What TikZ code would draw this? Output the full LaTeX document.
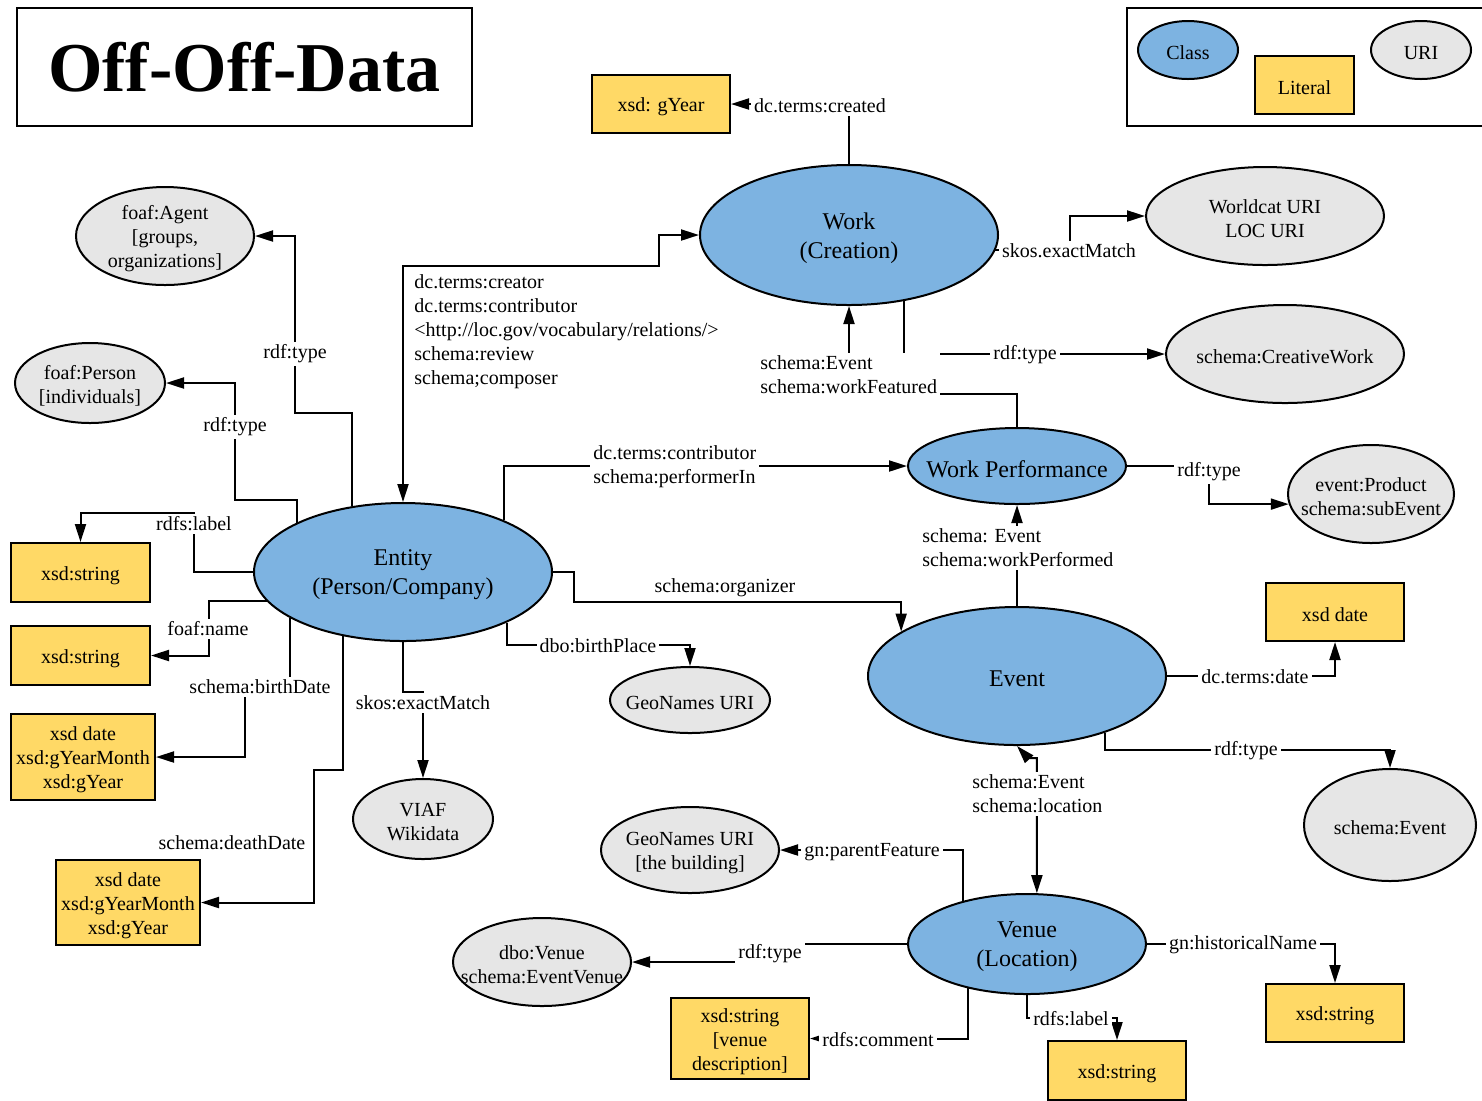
\documentclass[tikz,border=0pt]{standalone}
\usepackage{fontspec}
\setmainfont{Liberation Serif}
\usetikzlibrary{shapes.geometric,arrows.meta,calc}
\definecolor{clsblue}{HTML}{7DB3E1}
\definecolor{urigrey}{HTML}{E6E6E6}
\definecolor{lityellow}{HTML}{FFD966}
\newcommand\lblfont{\fontsize{10}{12}\selectfont}
\newcommand\clsfont{\fontsize{12}{14.5}\selectfont}
\begin{document}
\begin{tikzpicture}[x=0.5pt,y=-0.5pt,
  sz/.style 2 args={minimum width=#1*0.5pt,minimum height=#2*0.5pt},
  cls/.style={ellipse,draw,line width=1pt,fill=clsblue,inner sep=0pt},
  uri/.style={ellipse,draw,line width=1pt,fill=urigrey,inner sep=0pt},
  lit/.style={rectangle,draw,line width=1pt,fill=lityellow,inner sep=0pt},
  littxt/.style={align=center,font=\lblfont,inner sep=0pt,yshift=-1.5pt},
  clstxt/.style={align=center,font=\clsfont,inner sep=0pt,yshift=-1.5pt},
  uritxt/.style={align=center,font=\lblfont,inner sep=0pt,yshift=-1.5pt},
  lab/.style={fill=white,inner sep=1.5pt,font=\lblfont,align=center},
  labl/.style={fill=white,inner sep=1.5pt,font=\lblfont,align=left},
  conn/.style={line width=1pt,-{Triangle[length=9pt,width=5.5pt]}},
  conntwo/.style={line width=1pt,{Triangle[length=9pt,width=5.5pt]}-{Triangle[length=9pt,width=5.5pt]}}
]
\useasboundingbox (0,0) rectangle (1482,1100);

% title and legend
\node[draw,line width=1pt,sz={455}{118},inner sep=0pt] (title) at (244.5,67) {\fontsize{35}{40}\selectfont\bfseries Off-Off-Data};
\draw[line width=1pt] (1482,8) -- (1127,8) -- (1127,126) -- (1482,126);
\node[cls,sz={100}{58}] (lgclass) at (1188,50) {};
\node[clstxt,font=\lblfont] (lgclass-t) at (lgclass) {Class};
\node[lit,sz={99}{58}] (lglit) at (1304.5,85) {};
\node[littxt] (lglit-t) at (lglit) {Literal};
\node[uri,sz={100}{58}] (lguri) at (1421,50) {};
\node[uritxt] (lguri-t) at (lguri) {URI};

% class nodes
\node[cls,sz={298}{140}] (work) at (849,235) {};
\node[clstxt] (work-t) at (work) {Work\\(Creation)};
\node[cls,sz={298}{138}] (entity) at (403,572) {};
\node[clstxt] (entity-t) at (entity) {Entity\\(Person/Company)};
\node[cls,sz={218}{76}] (wp) at (1017,466) {};
\node[clstxt] (wp-t) at (wp) {Work Performance};
\node[cls,sz={298}{138}] (event) at (1017,676) {};
\node[clstxt] (event-t) at (event) {Event};
\node[cls,sz={238}{100}] (venue) at (1027,944) {};
\node[clstxt] (venue-t) at (venue) {Venue\\(Location)};

% URI nodes
\node[uri,sz={238}{98}] (worldcat) at (1265,216) {};
\node[uritxt] (worldcat-t) at (worldcat) {Worldcat URI\\LOC URI};
\node[uri,sz={238}{98}] (cw) at (1285,354) {};
\node[uritxt] (cw-t) at (cw) {schema:CreativeWork};
\node[uri,sz={178}{98}] (agent) at (165,236) {};
\node[uritxt] (agent-t) at (agent) {foaf:Agent\\{[}groups,\\organizations{]}};
\node[uri,sz={150}{80}] (person) at (90,383) {};
\node[uritxt] (person-t) at (person) {foaf:Person\\{[}individuals{]}};
\node[uri,sz={166}{98}] (product) at (1371,494) {};
\node[uritxt] (product-t) at (product) {event:Product\\schema:subEvent};
\node[uri,sz={160}{66}] (geo1) at (690,700) {};
\node[uritxt] (geo1-t) at (geo1) {GeoNames URI};
\node[uri,sz={140}{80}] (viaf) at (423,819) {};
\node[uritxt] (viaf-t) at (viaf) {VIAF\\Wikidata};
\node[uri,sz={172}{112}] (sevent) at (1390,825) {};
\node[uritxt] (sevent-t) at (sevent) {schema:Event};
\node[uri,sz={178}{86}] (geo2) at (690,850) {};
\node[uritxt] (geo2-t) at (geo2) {GeoNames URI\\{[}the building{]}};
\node[uri,sz={178}{88}] (dbovenue) at (542,962) {};
\node[uritxt] (dbovenue-t) at (dbovenue) {dbo:Venue\\schema:EventVenue};

% literal nodes
\node[lit,sz={138}{58}] (gyear) at (661,104) {};
\node[littxt] (gyear-t) at (gyear) {xsd: gYear};
\node[lit,sz={139}{59}] (str1) at (80.5,572.5) {};
\node[littxt] (str1-t) at (str1) {xsd:string};
\node[lit,sz={139}{59}] (str2) at (80.5,655.5) {};
\node[littxt] (str2-t) at (str2) {xsd:string};
\node[lit,sz={144}{86}] (bdate) at (83,757) {};
\node[littxt] (bdate-t) at (bdate) {xsd date\\xsd:gYearMonth\\xsd:gYear};
\node[lit,sz={144}{85}] (ddate) at (128,902.5) {};
\node[littxt] (ddate-t) at (ddate) {xsd date\\xsd:gYearMonth\\xsd:gYear};
\node[lit,sz={138}{58}] (xdate) at (1335,612) {};
\node[littxt] (xdate-t) at (xdate) {xsd date};
\node[lit,sz={138}{81}] (vdesc) at (740,1038.5) {};
\node[littxt] (vdesc-t) at (vdesc) {xsd:string\\{[}venue\\description{]}};
\node[lit,sz={138}{58}] (str3) at (1335,1013) {};
\node[littxt] (str3-t) at (str3) {xsd:string};
\node[lit,sz={138}{59}] (str4) at (1117,1070.5) {};
\node[littxt] (str4-t) at (str4) {xsd:string};

% bend points
\coordinate (c2) at (1070,216);
\coordinate (c4) at (849,394);
\coordinate (c5) at (659,266);
\coordinate (c6) at (295,413);
\coordinate (c7) at (235,500);
\coordinate (c8) at (194,513);
\coordinate (c9) at (209,655.5);
\coordinate (c10) at (245,686);
\coordinate (c11) at (314,770);
\coordinate (c12) at (423,692);
\coordinate (c13) at (600,645);
\coordinate (c15) at (574,602);
\coordinate (c17) at (1209,504);
\coordinate (c19) at (1246,750);
\coordinate (c20) at (1028,758);
\coordinate (c22) at (770,953);
\coordinate (c24) at (1071,1018);

% connectors
\draw[conn] (work.north) |- (gyear.east);
\draw[conn] (work.354) -| (c2) -- (worldcat.west);
\draw[conn] (work.310) |- (cw.west);
\draw[conn] (wp.north) |- (c4) -- (work.south);
\draw[conntwo] (entity.north) |- (c5) |- (work.west);
\draw[conn] (entity.128) |- (c6) |- (agent.east);
\draw[conn] (entity.155) |- (c7) |- (person.east);
\draw[conn] (entity.west) -| (c8) -| (str1.north);
\draw[conn] (entity.192) -| (c9) -- (str2.east);
\draw[conn] (entity.202) |- (c10) |- (bdate.east);
\draw[conn] (entity.227) |- (c11) |- (ddate.east);
\draw[conn] (entity.south) |- (c12) -- (viaf.north);
\draw[conn] (entity.334) |- (c13) -| (geo1.north);
\draw[conn] (entity.27) |- (wp.west);
\draw[conn] (entity.east) -| (c15) -| (event.159);
\draw[conn] (event.north) -- (wp.south);
\draw[conn] (wp.east) -| (c17) |- (product.187);
\draw[conn] (event.east) -| (xdate.south);
\draw[conn] (event.327) |- (c19) -| (sevent.north);
\draw[conntwo] (venue.79) |- (c20) -- (event.south);
\draw[conn] (venue.146) |- (geo2.east);
\draw[conn] (venue.west) -| (c22) |- (dbovenue.east);
\draw[conn] (venue.217) |- (vdesc.east);
\draw[conn] (venue.south) |- (c24) -| (str4.north);
\draw[conn] (venue.east) -| (str3.north);

% connector labels
\node[lab] (l1) at (820,106) {dc.terms:created};
\node[lab] (l2) at (1069,251) {skos.exactMatch};
\node[lab] (l3) at (1025,355) {rdf:type};
\node[labl,anchor=west] (l4) at (757,375) {schema:Event\\schema:workFeatured};
\node[labl,anchor=north west,fill=none] (l5) at (411,271) {dc.terms:creator\\dc.terms:contributor\\<http://loc.gov/vocabulary/relations/>\\schema:review\\schema;composer};
\node[lab] (l6) at (295,354) {rdf:type};
\node[lab] (l7) at (235,427) {rdf:type};
\node[lab] (l8) at (194,524) {rdfs:label};
\node[lab] (l9) at (208,629) {foaf:name};
\node[lab] (l10) at (260,687) {schema:birthDate};
\node[lab] (l11) at (232,843) {schema:deathDate};
\node[lab] (l12) at (423,703) {skos:exactMatch};
\node[lab] (l13) at (598,646) {dbo:birthPlace};
\node[labl,anchor=west] (l14) at (590,467) {dc.terms:contributor\\schema:performerIn};
\node[lab] (l15) at (725,588) {schema:organizer};
\node[labl,anchor=west] (l16) at (919,548) {schema: Event\\schema:workPerformed};
\node[lab] (l17) at (1209,472) {rdf:type};
\node[lab] (l18) at (1255,677) {dc.terms:date};
\node[lab] (l19) at (1246,751) {rdf:type};
\node[labl,anchor=west] (l20) at (969,794) {schema:Event\\schema:location};
\node[lab] (l21) at (872,852) {gn:parentFeature};
\node[lab] (l22) at (770,954) {rdf:type};
\node[lab] (l23) at (878,1040) {rdfs:comment};
\node[lab] (l24) at (1071,1019) {rdfs:label};
\node[lab] (l25) at (1243,945) {gn:historicalName};
\end{tikzpicture}
\end{document}
